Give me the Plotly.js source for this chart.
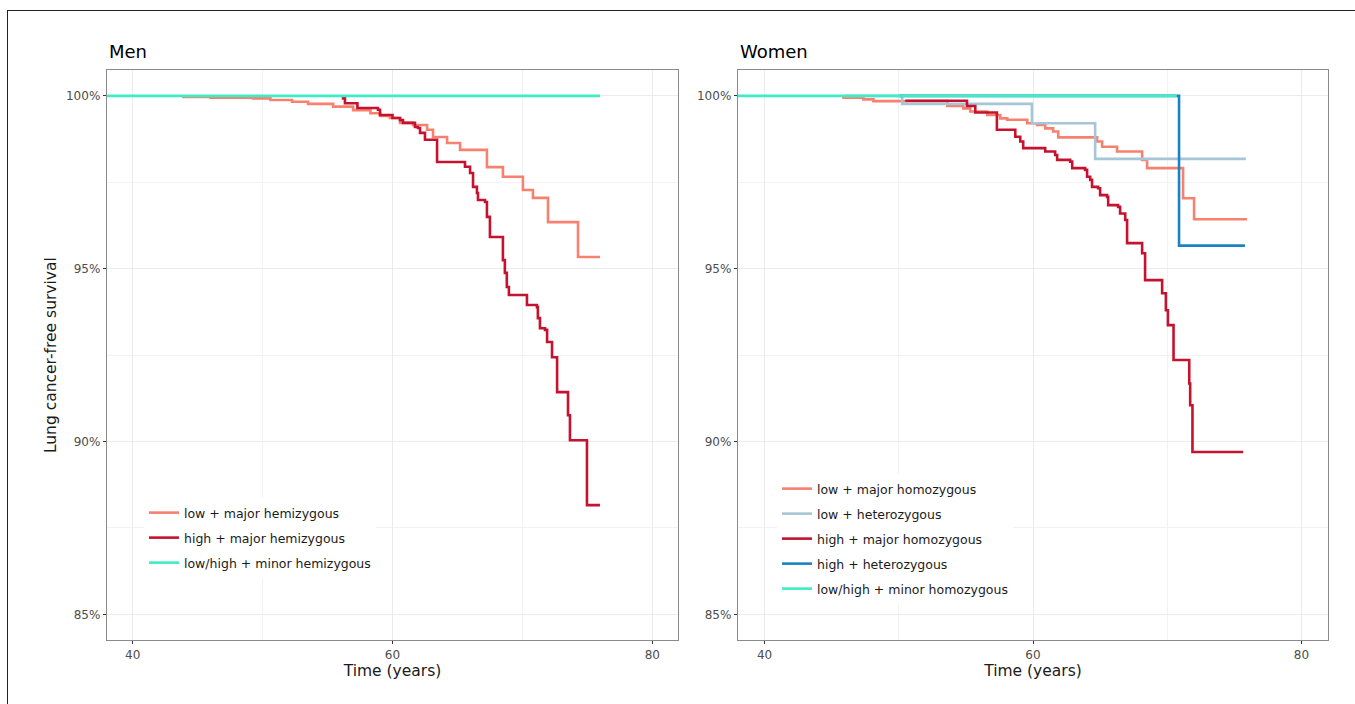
<!DOCTYPE html>
<html>
<head>
<meta charset="utf-8">
<script src="https://cdn.plot.ly/plotly-3.0.1.min.js"></script>
<style>
  html, body { margin: 0; padding: 0; background: #ffffff; overflow: hidden; }
  #chart { width: 1355px; height: 704px; }
  #frame { position: absolute; left: 7px; top: 10px; width: 1400px; height: 800px;
           border-left: 1.5px solid #222; border-top: 1.5px solid #222; pointer-events: none; }
</style>
</head>
<body>
<div id="chart"></div>
<div id="frame"></div>
<script>
// ---------- Data (time in years, survival as fraction) ----------
var panelTitles = ["Men", "Women"];
var xTickVals = [40, 60, 80];
var yTickVals = [0.85, 0.90, 0.95, 1.00];

// Men
var menLowMajorName = "low + major hemizygous";
var menLowMajorT = [43.8, 46.0, 49.26, 50.6, 52.27, 53.5, 55.43, 56.97, 58.3, 59.04, 59.8, 60.58, 61.58, 62.66, 63.12, 64.2, 65.2, 67.27, 68.5, 70.04, 70.81, 71.97, 74.28, 75.97];
var menLowMajorS = [0.9997, 0.9995, 0.9993, 0.9988, 0.9983, 0.9977, 0.9969, 0.9959, 0.9950, 0.9942, 0.9936, 0.9922, 0.9916, 0.9902, 0.9881, 0.9864, 0.9844, 0.9794, 0.9766, 0.9728, 0.9705, 0.9635, 0.9534, 0.9534];

var menHighMajorName = "high + major hemizygous";
var menHighMajorT = [56.09, 56.34, 57.3, 58.88, 59.04, 60.0, 60.58, 60.81, 61.73, 61.96, 62.12, 62.5, 63.43, 65.58, 65.97, 66.2, 66.5, 66.58, 67.12, 67.27, 67.5, 68.5, 68.65, 68.8, 68.96, 70.35, 71.12, 71.19, 71.35, 71.74, 71.9, 72.28, 72.67, 73.51, 73.66, 74.97, 75.97];
var menHighMajorS = [0.9993, 0.9979, 0.9965, 0.9960, 0.9945, 0.9936, 0.9930, 0.9922, 0.9910, 0.9907, 0.9893, 0.9873, 0.9809, 0.9795, 0.9777, 0.9737, 0.9719, 0.9699, 0.9693, 0.9650, 0.9592, 0.9525, 0.9488, 0.9447, 0.9424, 0.9395, 0.9389, 0.9357, 0.9328, 0.9323, 0.9288, 0.9244, 0.9143, 0.9076, 0.9004, 0.8816, 0.8816];

var menMinorName = "low/high + minor hemizygous";
var menMinorT = [0, 75.97];
var menMinorS = [1.0, 1.0];

// Women
var womLowMajorName = "low + major homozygous";
var womLowMajorT = [45.78, 47.37, 48.11, 53.62, 54.81, 55.33, 56.59, 57.56, 58.08, 59.57, 60.31, 60.91, 61.5, 61.88, 64.78, 65.15, 66.26, 68.13, 68.5, 71.18, 72.0, 75.94];
var womLowMajorS = [0.9995, 0.9990, 0.9985, 0.9971, 0.9964, 0.9955, 0.9945, 0.9935, 0.9931, 0.9921, 0.9916, 0.9906, 0.9897, 0.9880, 0.9868, 0.9853, 0.9839, 0.9815, 0.9791, 0.9704, 0.9643, 0.9643];

var womLowHetName = "low + heterozygous";
var womLowHetT = [46.0, 50.25, 59.92, 64.63, 75.86];
var womLowHetS = [1.0, 0.9977, 0.9921, 0.9818, 0.9818];

var womHighMajorName = "high + major homozygous";
var womHighMajorT = [50.49, 55.08, 55.7, 57.31, 58.68, 59.05, 59.27, 60.91, 61.65, 61.8, 62.77, 62.92, 63.88, 64.03, 64.26, 64.4, 64.85, 65.0, 65.52, 65.6, 66.34, 66.49, 66.87, 67.01, 68.13, 68.35, 69.62, 69.9, 70.05, 70.47, 71.64, 71.71, 71.88, 75.66];
var womHighMajorS = [0.9986, 0.9971, 0.9952, 0.9902, 0.9882, 0.9868, 0.9849, 0.9839, 0.9829, 0.9815, 0.9810, 0.9791, 0.9786, 0.9766, 0.9757, 0.9737, 0.9733, 0.9713, 0.9708, 0.9684, 0.9679, 0.9660, 0.9641, 0.9574, 0.9545, 0.9467, 0.9429, 0.9380, 0.9337, 0.9236, 0.9168, 0.9105, 0.8970, 0.8970];

var womHighHetName = "high + heterozygous";
var womHighHetT = [50.0, 70.88, 75.79];
var womHighHetS = [1.0, 0.9567, 0.9567];

var womMinorName = "low/high + minor homozygous";
var womMinorT = [0, 70.71];
var womMinorS = [1.0, 1.0];

// ---------- Styling ----------
var colSalmon = "#F8806F";
var colDarkRed = "#C4122F";
var colMint = "#3DEDC5";
var colLightBlue = "#A6C6D8";
var colBlue = "#1A83C2";
var FONT = "DejaVu Sans";
var LW = 2.6;

function stepTrace(t, s, name, color, xa, ya, legendId, group) {
  return {
    x: t, y: s, name: name, type: "scatter", mode: "lines",
    line: {shape: "hv", color: color, width: LW},
    xaxis: xa, yaxis: ya, legend: legendId, legendgroup: group,
    hovertemplate: name + "<br>%{x:.1f} y: %{y:.2%}<extra></extra>"
  };
}

var traces = [
  stepTrace(menLowMajorT, menLowMajorS, menLowMajorName, colSalmon, "x", "y", "legend", "m1"),
  stepTrace(menHighMajorT, menHighMajorS, menHighMajorName, colDarkRed, "x", "y", "legend", "m2"),
  stepTrace(menMinorT, menMinorS, menMinorName, colMint, "x", "y", "legend", "m3"),
  stepTrace(womLowMajorT, womLowMajorS, womLowMajorName, colSalmon, "x2", "y2", "legend2", "w1"),
  stepTrace(womLowHetT, womLowHetS, womLowHetName, colLightBlue, "x2", "y2", "legend2", "w2"),
  stepTrace(womHighMajorT, womHighMajorS, womHighMajorName, colDarkRed, "x2", "y2", "legend2", "w3"),
  stepTrace(womHighHetT, womHighHetS, womHighHetName, colBlue, "x2", "y2", "legend2", "w4"),
  stepTrace(womMinorT, womMinorS, womMinorName, colMint, "x2", "y2", "legend2", "w5")
];

var W = 1355, H = 704;
var menDom = [106.7 / W, 678.3 / W];
var womDom = [737.7 / W, 1328.3 / W];
var yDom = [1 - 640.3 / H, 1 - 70 / H];

function xAxis(dom, anchor) {
  return {
    domain: dom, anchor: anchor, range: [38, 82], autorange: false,
    tickvals: xTickVals, ticktext: xTickVals.map(String),
    ticks: "outside", ticklen: 3, tickwidth: 1.1, tickcolor: "#333333",
    tickfont: {family: FONT, size: 12, color: "#4d4d4d"},
    showgrid: true, gridcolor: "#ebebeb", gridwidth: 1.1,
    minor: {tickvals: [50, 70], showgrid: true, gridcolor: "#f2f2f2", gridwidth: 1, ticks: ""},
    showline: true, mirror: true, linecolor: "#8a8a8a", linewidth: 1,
    zeroline: false, automargin: false,
    title: {text: "Time (years)", font: {family: FONT, size: 15.5, color: "#1a1a1a"}, standoff: 4}
  };
}
function yAxis(anchor, withTitle) {
  var ax = {
    domain: yDom, anchor: anchor, range: [0.8425, 1.0075], autorange: false,
    tickvals: yTickVals, ticktext: yTickVals.map(function (v) { return Math.round(v * 100) + "%"; }),
    ticks: "outside", ticklen: 3, tickwidth: 1.1, tickcolor: "#333333",
    tickfont: {family: FONT, size: 12, color: "#4d4d4d"},
    showgrid: true, gridcolor: "#ebebeb", gridwidth: 1.1,
    minor: {tickvals: [0.875, 0.925, 0.975], showgrid: true, gridcolor: "#f2f2f2", gridwidth: 1, ticks: ""},
    showline: true, mirror: true, linecolor: "#8a8a8a", linewidth: 1,
    zeroline: false, automargin: false
  };
  if (withTitle) {
    ax.title = {text: "Lung cancer-free survival", font: {family: FONT, size: 15.5, color: "#1a1a1a"}, standoff: 5};
  }
  return ax;
}

var legendBase = {
  bgcolor: "rgba(255,255,255,1)", borderwidth: 0,
  font: {family: FONT, size: 12.5, color: "#1a1a1a"},
  xanchor: "left", yanchor: "top", tracegroupgap: 5.75, itemwidth: 30,
  itemclick: false, itemdoubleclick: false
};

var layout = {
  width: W, height: H,
  margin: {l: 0, r: 0, t: 0, b: 0},
  paper_bgcolor: "#ffffff", plot_bgcolor: "#ffffff",
  font: {family: FONT},
  showlegend: true,
  xaxis: xAxis(menDom, "y"),
  yaxis: yAxis("x", true),
  xaxis2: xAxis(womDom, "y2"),
  yaxis2: yAxis("x2", false),
  legend: Object.assign({}, legendBase, {x: 144 / W, y: 1 - 498 / H}),
  legend2: Object.assign({}, legendBase, {x: 777 / W, y: 1 - 474 / H}),
  annotations: [
    {text: panelTitles[0], xref: "paper", yref: "paper", x: menDom[0], y: 1 - 51 / H,
     xanchor: "left", yanchor: "middle", showarrow: false,
     font: {family: FONT, size: 18, color: "#000000"}},
    {text: panelTitles[1], xref: "paper", yref: "paper", x: womDom[0], y: 1 - 51 / H,
     xanchor: "left", yanchor: "middle", showarrow: false,
     font: {family: FONT, size: 18, color: "#000000"}}
  ]
};

Plotly.newPlot("chart", traces, layout, {displayModeBar: false, responsive: false});
</script>
</body>
</html>
